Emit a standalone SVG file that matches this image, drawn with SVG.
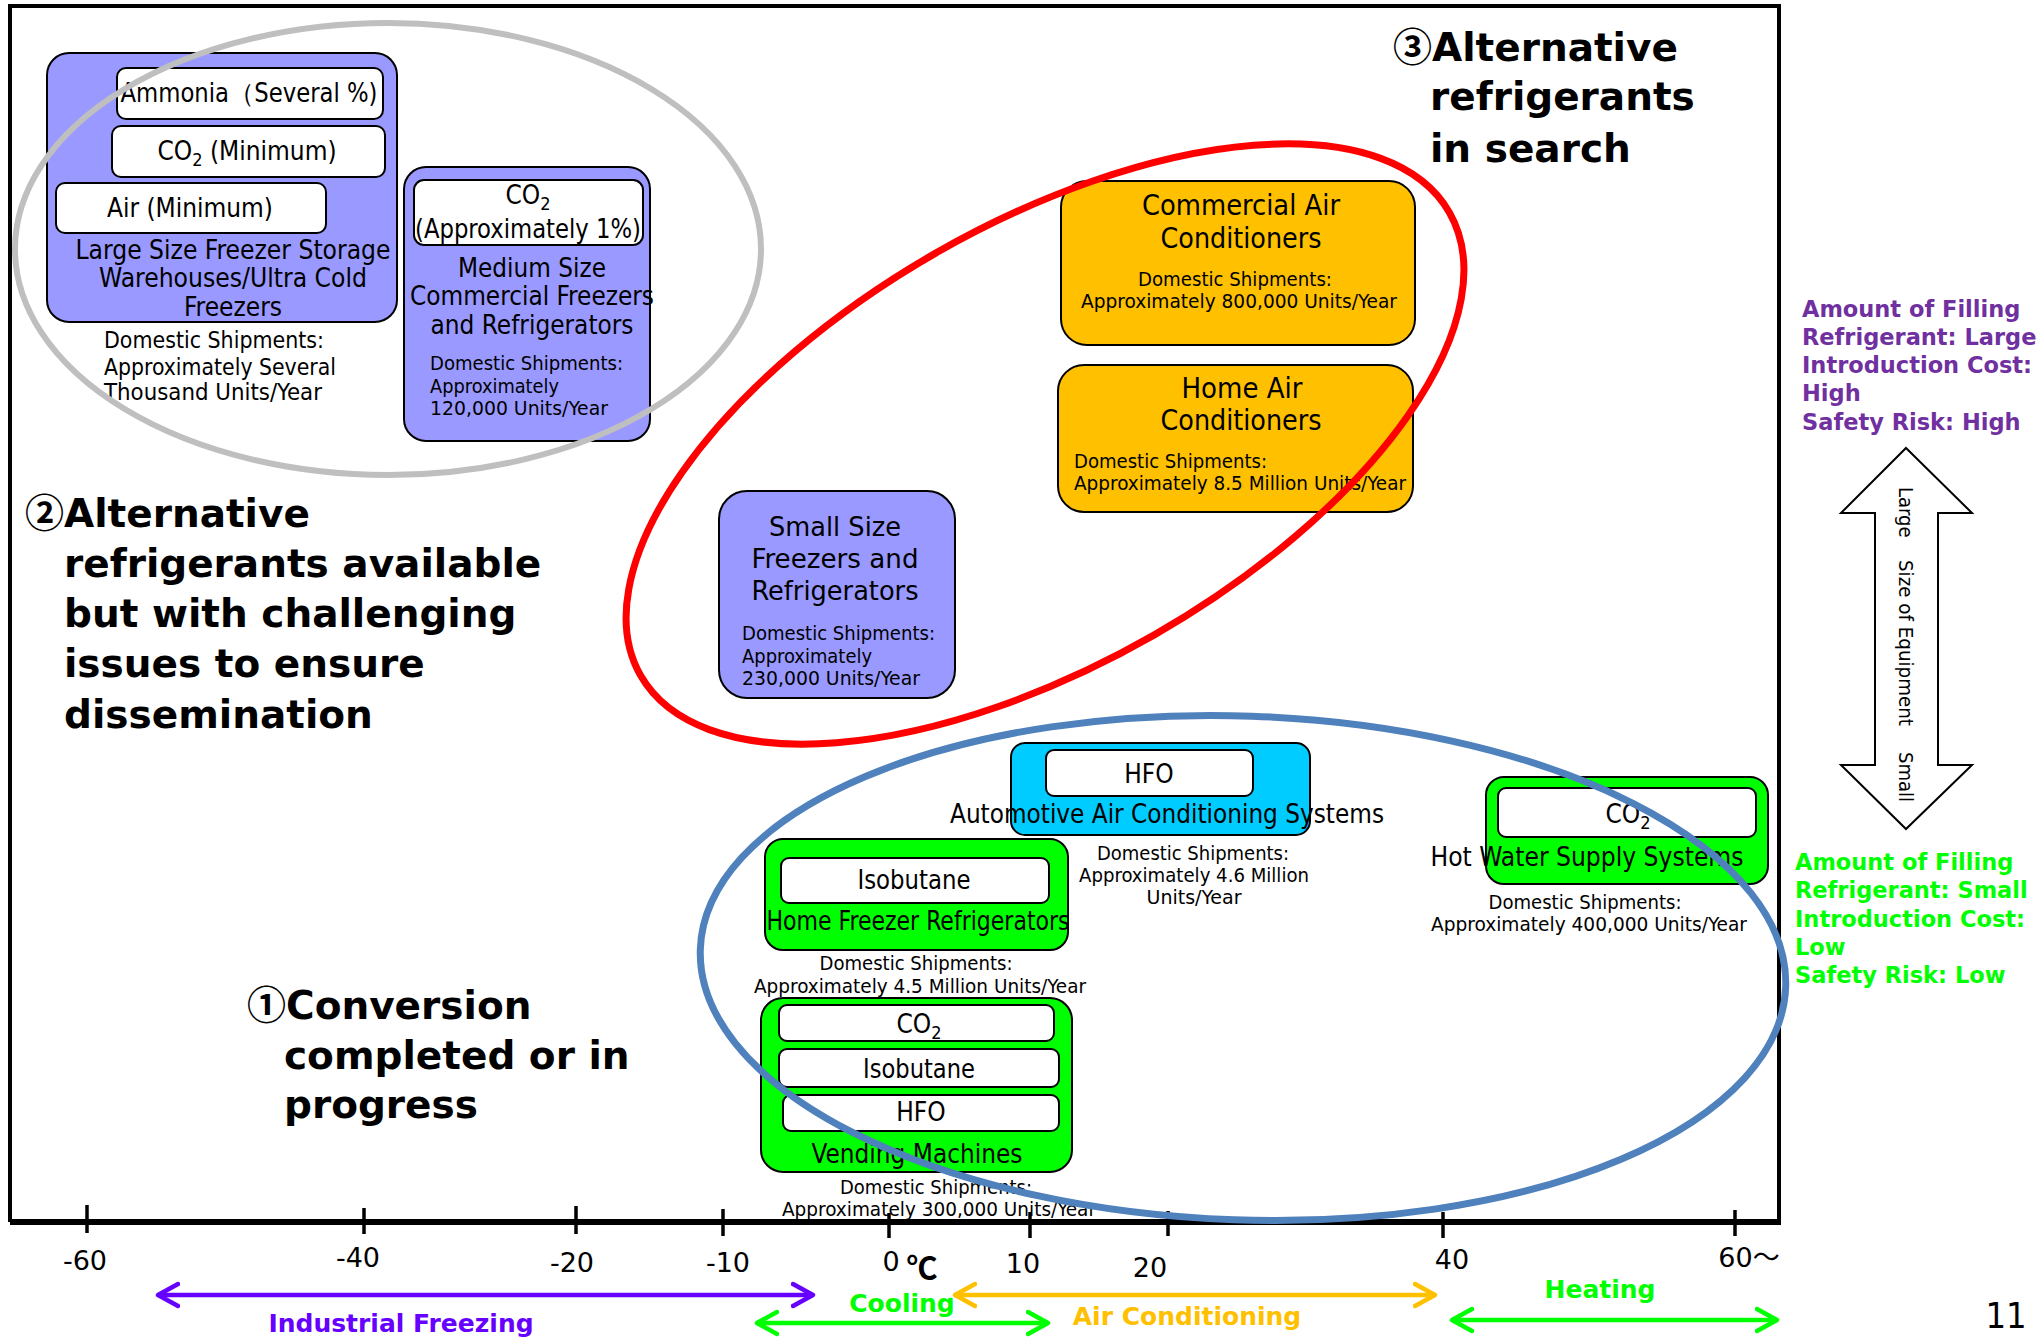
<svg xmlns="http://www.w3.org/2000/svg" width="2038" height="1340" viewBox="0 0 2038 1340">
<defs>
<style>
.bg{fill:#FFFFFF}
.frame{fill:none;stroke:#000;stroke-width:4}
.axis{stroke:#000;stroke-width:6}
.tick{stroke:#000;stroke-width:3.5}
.pur{fill:#9999FF;stroke:#000;stroke-width:2}
.org{fill:#FFC000;stroke:#000;stroke-width:2}
.grn{fill:#00FF00;stroke:#000;stroke-width:2}
.cyn{fill:#00CCFF;stroke:#000;stroke-width:2}
.wht{fill:#FFFFFF;stroke:#000;stroke-width:2}
.c{font-family:"DejaVu Sans Condensed","DejaVu Sans",sans-serif;font-stretch:condensed;fill:#000}
.t26{font-size:26px}
.t28{font-size:28px}
.t23{font-size:23px}
.t20{font-size:20px}
.mid{text-anchor:middle}
.big{font-family:"DejaVu Sans","Noto Sans CJK JP",sans-serif;font-weight:bold;font-size:39px;fill:#000}
.cj{font-family:"Noto Sans CJK JP",sans-serif;font-weight:bold}
.side{font-family:"DejaVu Sans",sans-serif;font-weight:bold;font-size:22.5px}
.ax{font-family:"DejaVu Sans","Noto Sans CJK JP",sans-serif;font-size:27px;fill:#000;text-anchor:middle}
.deg{font-family:"Noto Sans CJK JP",sans-serif;font-weight:bold;font-size:31px;fill:#000;text-anchor:middle}
.pg{font-family:"DejaVu Sans Condensed","DejaVu Sans",sans-serif;font-stretch:condensed;font-size:36px;fill:#000;text-anchor:middle}
.rng{font-family:"DejaVu Sans",sans-serif;font-weight:bold;font-size:25px;text-anchor:middle}
.ell{fill:none}
.arrowline{fill:none;stroke-width:4.5}
</style>
<marker id="mp" markerUnits="userSpaceOnUse" markerWidth="30" markerHeight="30" refX="22" refY="12" orient="auto-start-reverse" viewBox="0 0 30 24"><path d="M2 1 L22 12 L2 23" fill="none" stroke="#6600FF" stroke-width="4.5" stroke-linecap="round" stroke-linejoin="round"/></marker>
<marker id="mg" markerUnits="userSpaceOnUse" markerWidth="30" markerHeight="30" refX="22" refY="12" orient="auto-start-reverse" viewBox="0 0 30 24"><path d="M2 1 L22 12 L2 23" fill="none" stroke="#00FF00" stroke-width="4.5" stroke-linecap="round" stroke-linejoin="round"/></marker>
<marker id="mo" markerUnits="userSpaceOnUse" markerWidth="30" markerHeight="30" refX="22" refY="12" orient="auto-start-reverse" viewBox="0 0 30 24"><path d="M2 1 L22 12 L2 23" fill="none" stroke="#FFC000" stroke-width="4.5" stroke-linecap="round" stroke-linejoin="round"/></marker>
</defs>
<rect class="bg" x="0" y="0" width="2038" height="1340"/>

<g id="frame">
<path class="frame" d="M10 1222 L10 6 L1779 6 L1779 1222"/>
<line class="axis" x1="10" y1="1222" x2="1781" y2="1222"/>
<line class="tick" x1="87" y1="1205" x2="87" y2="1233"/>
<line class="tick" x1="364" y1="1208" x2="364" y2="1234"/>
<line class="tick" x1="576" y1="1206" x2="576" y2="1234"/>
<line class="tick" x1="723" y1="1209" x2="723" y2="1236"/>
<line class="tick" x1="889" y1="1213" x2="889" y2="1238"/>
<line class="tick" x1="1030" y1="1212" x2="1030" y2="1238"/>
<line class="tick" x1="1168" y1="1211" x2="1168" y2="1236"/>
<line class="tick" x1="1443" y1="1212" x2="1443" y2="1238"/>
<line class="tick" x1="1735" y1="1210" x2="1735" y2="1236"/>
</g>

<g id="axis-labels">
<text class="ax" x="85" y="1270">-60</text>
<text class="ax" x="358" y="1267">-40</text>
<text class="ax" x="572" y="1272">-20</text>
<text class="ax" x="728" y="1272">-10</text>
<text class="ax" x="891" y="1271">0</text>
<text class="deg" x="922" y="1279">℃</text>
<text class="ax" x="1023" y="1273">10</text>
<text class="ax" x="1150" y="1277">20</text>
<text class="ax" x="1452" y="1269">40</text>
<text class="ax" x="1749" y="1267">60～</text>
<text class="pg" x="2006" y="1328">11</text>
</g>

<g id="large-freezer">
<rect class="pur" x="47" y="53" width="350" height="269" rx="22"/>
<rect class="wht" x="117" y="68" width="266" height="51" rx="9"/>
<text class="c t26 mid" x="249" y="102" textLength="257" lengthAdjust="spacingAndGlyphs">Ammonia（Several %)</text>
<rect class="wht" x="112" y="126" width="273" height="51" rx="9"/>
<text class="c t26 mid" x="247" y="160">CO<tspan dy="6" font-size="18px">2</tspan><tspan dy="-6"> (Minimum)</tspan></text>
<rect class="wht" x="56" y="183" width="270" height="50" rx="9"/>
<text class="c t26 mid" x="190" y="217" textLength="166" lengthAdjust="spacingAndGlyphs">Air (Minimum)</text>
<text class="c t26 mid" x="233" y="259" textLength="315" lengthAdjust="spacingAndGlyphs">Large Size Freezer Storage</text>
<text class="c t26 mid" x="233" y="287" textLength="268" lengthAdjust="spacingAndGlyphs">Warehouses/Ultra Cold</text>
<text class="c t26 mid" x="233" y="316" textLength="98" lengthAdjust="spacingAndGlyphs">Freezers</text>
<text class="c t23" x="104" y="348" textLength="220" lengthAdjust="spacingAndGlyphs">Domestic Shipments:</text>
<text class="c t23" x="104" y="375" textLength="232" lengthAdjust="spacingAndGlyphs">Approximately Several</text>
<text class="c t23" x="104" y="400" textLength="218" lengthAdjust="spacingAndGlyphs">Thousand Units/Year</text>
</g>

<g id="medium-freezer">
<rect class="pur" x="404" y="167" width="246" height="274" rx="22"/>
<rect class="wht" x="414" y="180" width="229" height="65" rx="10"/>
<text class="c t26 mid" x="528" y="204">CO<tspan dy="6" font-size="18px">2</tspan></text>
<text class="c t26 mid" x="528" y="238" textLength="226" lengthAdjust="spacingAndGlyphs">(Approximately 1%)</text>
<text class="c t26 mid" x="532" y="277" textLength="148" lengthAdjust="spacingAndGlyphs">Medium Size</text>
<text class="c t26 mid" x="532" y="305" textLength="244" lengthAdjust="spacingAndGlyphs">Commercial Freezers</text>
<text class="c t26 mid" x="532" y="334" textLength="203" lengthAdjust="spacingAndGlyphs">and Refrigerators</text>
<text class="c t20" x="430" y="370" textLength="193" lengthAdjust="spacingAndGlyphs">Domestic Shipments:</text>
<text class="c t20" x="430" y="393" textLength="129" lengthAdjust="spacingAndGlyphs">Approximately</text>
<text class="c t20" x="430" y="415" textLength="178" lengthAdjust="spacingAndGlyphs">120,000 Units/Year</text>
</g>

<g id="commercial-ac">
<rect class="org" x="1061" y="181" width="354" height="164" rx="26"/>
<text class="c t28 mid" x="1241" y="215" textLength="198" lengthAdjust="spacingAndGlyphs">Commercial Air</text>
<text class="c t28 mid" x="1241" y="248" textLength="161" lengthAdjust="spacingAndGlyphs">Conditioners</text>
<text class="c t20 mid" x="1235" y="286" textLength="194" lengthAdjust="spacingAndGlyphs">Domestic Shipments:</text>
<text class="c t20 mid" x="1239" y="308" textLength="316" lengthAdjust="spacingAndGlyphs">Approximately 800,000 Units/Year</text>
</g>

<g id="home-ac">
<rect class="org" x="1058" y="365" width="355" height="147" rx="26"/>
<text class="c t28 mid" x="1242" y="398" textLength="121" lengthAdjust="spacingAndGlyphs">Home Air</text>
<text class="c t28 mid" x="1241" y="430" textLength="161" lengthAdjust="spacingAndGlyphs">Conditioners</text>
<text class="c t20" x="1074" y="468" textLength="193" lengthAdjust="spacingAndGlyphs">Domestic Shipments:</text>
<text class="c t20" x="1074" y="490" textLength="332" lengthAdjust="spacingAndGlyphs">Approximately 8.5 Million Units/Year</text>
</g>

<g id="small-freezer">
<rect class="pur" x="719" y="491" width="236" height="207" rx="28"/>
<text class="c t26 mid" x="835" y="536" textLength="132" lengthAdjust="spacingAndGlyphs">Small Size</text>
<text class="c t26 mid" x="835" y="568" textLength="167" lengthAdjust="spacingAndGlyphs">Freezers and</text>
<text class="c t26 mid" x="835" y="600" textLength="167" lengthAdjust="spacingAndGlyphs">Refrigerators</text>
<text class="c t20" x="742" y="640" textLength="193" lengthAdjust="spacingAndGlyphs">Domestic Shipments:</text>
<text class="c t20" x="742" y="663" textLength="130" lengthAdjust="spacingAndGlyphs">Approximately</text>
<text class="c t20" x="742" y="685" textLength="178" lengthAdjust="spacingAndGlyphs">230,000 Units/Year</text>
</g>

<g id="automotive-ac">
<rect class="cyn" x="1011" y="743" width="299" height="92" rx="14"/>
<rect class="wht" x="1046" y="750" width="207" height="46" rx="8"/>
<text class="c t26 mid" x="1149" y="783">HFO</text>
<text class="c t26 mid" x="1167" y="823" textLength="434" lengthAdjust="spacingAndGlyphs">Automotive Air Conditioning Systems</text>
<text class="c t20 mid" x="1193" y="860" textLength="192" lengthAdjust="spacingAndGlyphs">Domestic Shipments:</text>
<text class="c t20 mid" x="1194" y="882" textLength="230" lengthAdjust="spacingAndGlyphs">Approximately 4.6 Million</text>
<text class="c t20 mid" x="1194" y="904" textLength="95" lengthAdjust="spacingAndGlyphs">Units/Year</text>
</g>

<g id="hot-water">
<rect class="grn" x="1486" y="777" width="282" height="107" rx="18"/>
<rect class="wht" x="1498" y="788" width="258" height="49" rx="8"/>
<text class="c t26 mid" x="1628" y="823">CO<tspan dy="6" font-size="18px">2</tspan></text>
<text class="c t26 mid" x="1587" y="866" textLength="313" lengthAdjust="spacingAndGlyphs">Hot Water Supply Systems</text>
<text class="c t20 mid" x="1585" y="909" textLength="193" lengthAdjust="spacingAndGlyphs">Domestic Shipments:</text>
<text class="c t20 mid" x="1589" y="931" textLength="316" lengthAdjust="spacingAndGlyphs">Approximately 400,000 Units/Year</text>
</g>

<g id="home-freezer">
<rect class="grn" x="765" y="839" width="303" height="111" rx="18"/>
<rect class="wht" x="781" y="858" width="268" height="45" rx="8"/>
<text class="c t26 mid" x="914" y="889" textLength="113" lengthAdjust="spacingAndGlyphs">Isobutane</text>
<text class="c t26 mid" x="918" y="930" textLength="303" lengthAdjust="spacingAndGlyphs">Home Freezer Refrigerators</text>
<text class="c t20 mid" x="916" y="970" textLength="193" lengthAdjust="spacingAndGlyphs">Domestic Shipments:</text>
<text class="c t20 mid" x="920" y="993" textLength="332" lengthAdjust="spacingAndGlyphs">Approximately 4.5 Million Units/Year</text>
</g>

<g id="vending">
<rect class="grn" x="761" y="998" width="311" height="174" rx="22"/>
<rect class="wht" x="779" y="1005" width="275" height="36" rx="8"/>
<text class="c t26 mid" x="919" y="1033">CO<tspan dy="6" font-size="18px">2</tspan></text>
<rect class="wht" x="779" y="1049" width="280" height="38" rx="8"/>
<text class="c t26 mid" x="919" y="1078" textLength="112" lengthAdjust="spacingAndGlyphs">Isobutane</text>
<rect class="wht" x="783" y="1095" width="276" height="36" rx="8"/>
<text class="c t26 mid" x="921" y="1121">HFO</text>
<text class="c t26 mid" x="917" y="1163" textLength="211" lengthAdjust="spacingAndGlyphs">Vending Machines</text>
<text class="c t20 mid" x="936" y="1194" textLength="192" lengthAdjust="spacingAndGlyphs">Domestic Shipments:</text>
<text class="c t20 mid" x="939" y="1216" textLength="314" lengthAdjust="spacingAndGlyphs">Approximately 300,000 Units/Year</text>
</g>

<g id="label-3">
<text class="big" x="1393" y="61"><tspan class="cj">③</tspan>Alternative</text>
<text class="big" x="1430" y="110">refrigerants</text>
<text class="big" x="1430" y="162">in search</text>
</g>
<g id="label-2">
<text class="big" x="25" y="527"><tspan class="cj">②</tspan>Alternative</text>
<text class="big" x="64" y="577">refrigerants available</text>
<text class="big" x="64" y="627">but with challenging</text>
<text class="big" x="64" y="677">issues to ensure</text>
<text class="big" x="64" y="728">dissemination</text>
</g>
<g id="label-1">
<text class="big" x="247" y="1019"><tspan class="cj">①</tspan>Conversion</text>
<text class="big" x="284" y="1069">completed or in</text>
<text class="big" x="284" y="1118">progress</text>
</g>

<g id="legend-high" fill="#7030A0">
<text class="side" x="1802" y="317">Amount of Filling</text>
<text class="side" x="1802" y="345">Refrigerant: Large</text>
<text class="side" x="1802" y="373">Introduction Cost:</text>
<text class="side" x="1802" y="401">High</text>
<text class="side" x="1802" y="430">Safety Risk: High</text>
</g>
<g id="legend-low" fill="#00FF00">
<text class="side" x="1795" y="870">Amount of Filling</text>
<text class="side" x="1795" y="898">Refrigerant: Small</text>
<text class="side" x="1795" y="927">Introduction Cost:</text>
<text class="side" x="1795" y="955">Low</text>
<text class="side" x="1795" y="983">Safety Risk: Low</text>
</g>

<g id="size-arrow">
<polygon points="1906,448 1972,513 1938,513 1938,765 1972,765 1906,829 1841,765 1875,765 1875,513 1841,513" fill="#FFFFFF" stroke="#000" stroke-width="2"/>
<text class="c t20" transform="translate(1906,487) rotate(90)" x="0" y="7">Large</text>
<text class="c t20" transform="translate(1906,560) rotate(90)" x="0" y="7" textLength="166" lengthAdjust="spacingAndGlyphs">Size of Equipment</text>
<text class="c t20" transform="translate(1906,752) rotate(90)" x="0" y="7">Small</text>
</g>

<g id="connectors">
<line class="arrowline" x1="158" y1="1295" x2="813" y2="1295" stroke="#6600FF" marker-start="url(#mp)" marker-end="url(#mp)"/>
<line class="arrowline" x1="757" y1="1323" x2="1048" y2="1323" stroke="#00FF00" marker-start="url(#mg)" marker-end="url(#mg)"/>
<line class="arrowline" x1="955" y1="1295" x2="1435" y2="1295" stroke="#FFC000" marker-start="url(#mo)" marker-end="url(#mo)"/>
<line class="arrowline" x1="1452" y1="1320" x2="1777" y2="1320" stroke="#00FF00" marker-start="url(#mg)" marker-end="url(#mg)"/>
</g>
<g id="range-labels">
<text class="rng" x="401" y="1332" fill="#6600FF">Industrial Freezing</text>
<text class="rng" x="902" y="1312" fill="#00FF00">Cooling</text>
<text class="rng" x="1187" y="1325" fill="#FFC000">Air Conditioning</text>
<text class="rng" x="1600" y="1298" fill="#00FF00">Heating</text>
</g>

<g id="groupings">
<ellipse class="ell" cx="388" cy="249" rx="373" ry="226" stroke="#BFBFBF" stroke-width="6"/>
<ellipse class="ell" cx="1045" cy="444" rx="466" ry="220" transform="rotate(-29.8 1045 444)" stroke="#FF0000" stroke-width="7"/>
<ellipse class="ell" cx="1243" cy="968" rx="543" ry="252" transform="rotate(2 1243 968)" stroke="#4F81BD" stroke-width="7"/>
</g>
</svg>
